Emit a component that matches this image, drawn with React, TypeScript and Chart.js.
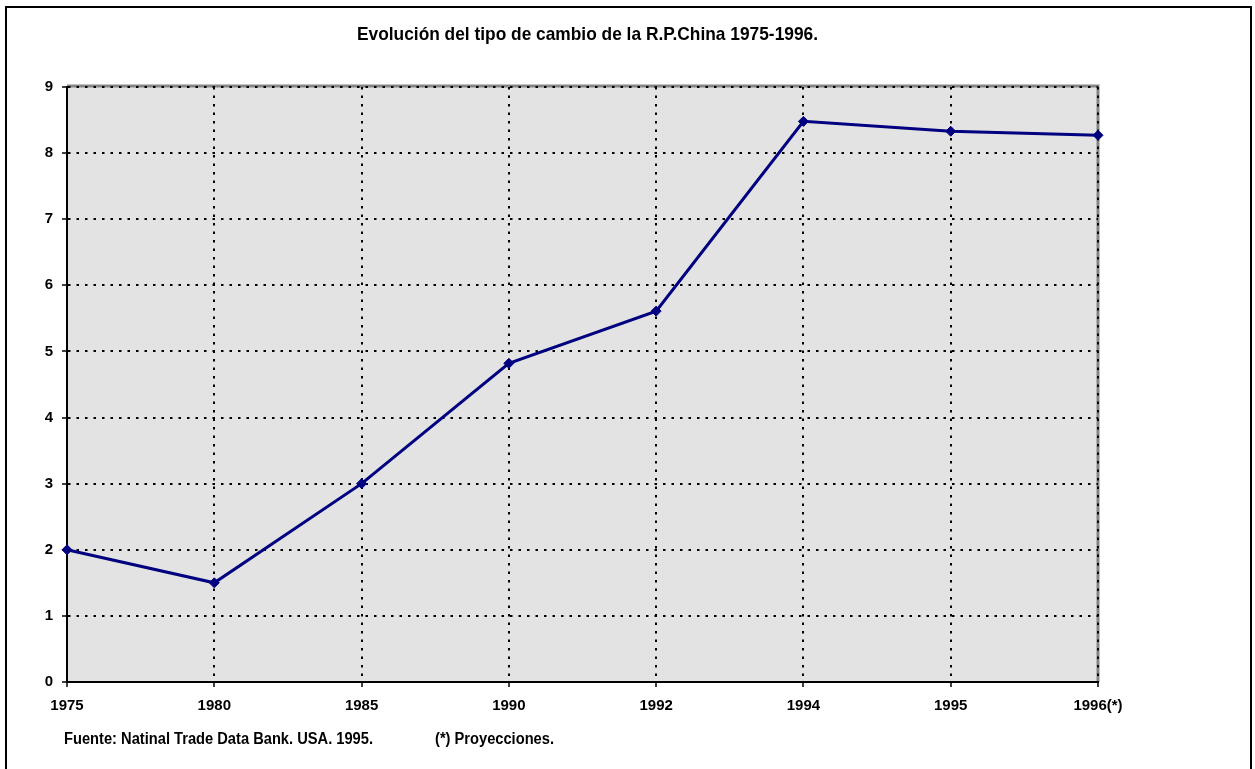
import { useEffect, useLayoutEffect, useRef } from "react";
import { Chart, registerables } from "chart.js";

Chart.register(...registerables);

const years = ["1975", "1980", "1985", "1990", "1992", "1994", "1995", "1996(*)"];
const exchangeRate = [2.0, 1.5, 3.0, 4.82, 5.61, 8.48, 8.33, 8.27];
const yMin = 0;
const yMax = 9;
const yStep = 1;

const titleText = "Evolución del tipo de cambio de la R.P.China 1975-1996.";
const sourceText = "Fuente: Natinal Trade Data Bank. USA. 1995.";
const noteText = "(*) Proyecciones.";

const FONT = '"Liberation Sans", Arial, sans-serif';
const NARROW = '"Liberation Sans Narrow", "Arial Narrow"';

function hasNarrow(): boolean {
  try {
    const c = document.createElement("canvas").getContext("2d");
    if (!c) return false;
    c.font = `bold 20px ${NARROW}, monospace`;
    const a = c.measureText("1975 Proyecciones").width;
    c.font = "bold 20px monospace";
    const b = c.measureText("1975 Proyecciones").width;
    return Math.abs(a - b) > 0.5;
  } catch (e) {
    return false;
  }
}

function FitText(props: { text: string; left: number; top: number; width: number; size: number }) {
  const ref = useRef<HTMLDivElement>(null);
  useLayoutEffect(() => {
    const el = ref.current;
    if (!el) return;
    el.style.transform = "none";
    const w = el.getBoundingClientRect().width;
    if (w > 0) el.style.transform = `scaleX(${props.width / w})`;
  }, [props.text, props.width, props.size]);
  return (
    <div
      ref={ref}
      style={{
        position: "absolute",
        left: props.left,
        top: props.top,
        whiteSpace: "nowrap",
        fontFamily: FONT,
        fontWeight: "bold",
        fontSize: props.size,
        lineHeight: `${props.size}px`,
        transformOrigin: "0 0",
        color: "#000",
      }}
    >
      {props.text}
    </div>
  );
}

const framePlugin = {
  id: "plotFrame",
  beforeDraw(chart: any) {
    const { ctx, chartArea } = chart;
    if (!chartArea) return;
    const { left, right, top, bottom } = chartArea;
    ctx.save();
    ctx.fillStyle = "#e3e3e3";
    ctx.fillRect(left, top, right - left, bottom - top);
    ctx.strokeStyle = "#858585";
    ctx.lineWidth = 3;
    ctx.beginPath();
    ctx.moveTo(left, top - 1);
    ctx.lineTo(right, top - 1);
    ctx.lineTo(right, bottom);
    ctx.stroke();
    ctx.restore();
  },
};

export default function App() {
  const canvasRef = useRef<HTMLCanvasElement>(null);

  useEffect(() => {
    const canvas = canvasRef.current;
    if (!canvas) return;
    const narrow = hasNarrow();
    const tickFont = narrow
      ? { family: `${NARROW}, ${FONT}`, weight: "bold" as const, size: 17 }
      : { family: FONT, weight: "bold" as const, size: 15 };
    const gridOpts = {
      color: "#000",
      lineWidth: 2,
      tickLength: 5,
      tickColor: "#000",
      tickWidth: 1.5,
      tickBorderDash: [],
    };
    const chart = new Chart(canvas, {
      type: "line",
      data: {
        labels: years,
        datasets: [
          {
            data: exchangeRate,
            borderColor: "#000080",
            backgroundColor: "#000080",
            borderWidth: 3,
            tension: 0,
            pointStyle: "rectRot",
            pointRadius: 5,
            pointBackgroundColor: "#000080",
            pointBorderColor: "#000080",
            pointBorderWidth: 1,
            clip: false,
          },
        ],
      },
      options: {
        responsive: false,
        animation: false,
        events: [],
        devicePixelRatio: 1,
        layout: { padding: { left: 27, top: 87, right: 157, bottom: 47 } },
        plugins: {
          legend: { display: false },
          tooltip: { enabled: false },
          title: { display: false },
        },
        scales: {
          x: {
            type: "category",
            offset: false,
            grid: gridOpts,
            border: { display: true, color: "#000", width: 2, dash: [2.5, 6] },
            ticks: {
              font: tickFont,
              color: "#000",
              padding: 10,
              maxRotation: 0,
              autoSkip: false,
            },
            afterFit(scale: any) {
              scale.height = 40;
            },
          },
          y: {
            min: yMin,
            max: yMax,
            grid: gridOpts,
            border: { display: true, color: "#000", width: 2, dash: [2.5, 6] },
            ticks: {
              stepSize: yStep,
              font: tickFont,
              color: "#000",
              padding: 9,
            },
            afterFit(scale: any) {
              scale.width = 40;
            },
          },
        },
      },
      plugins: [framePlugin],
    });
    return () => chart.destroy();
  }, []);

  return (
    <div
      style={{
        position: "absolute",
        left: 0,
        top: 0,
        width: 1255,
        height: 769,
        overflow: "hidden",
        background: "#fff",
      }}
    >
      <div
        style={{
          position: "absolute",
          left: 5,
          top: 6,
          width: 1243,
          height: 800,
          border: "2px solid #000",
        }}
      />
      <canvas
        ref={canvasRef}
        width={1255}
        height={769}
        style={{ position: "absolute", left: 0, top: 0, width: 1255, height: 769 }}
      />
      <FitText text={titleText} left={357} top={23.9} width={461} size={19} />
      <FitText text={sourceText} left={64} top={730.8} width={309} size={16} />
      <FitText text={noteText} left={435} top={730.8} width={119} size={16} />
    </div>
  );
}
